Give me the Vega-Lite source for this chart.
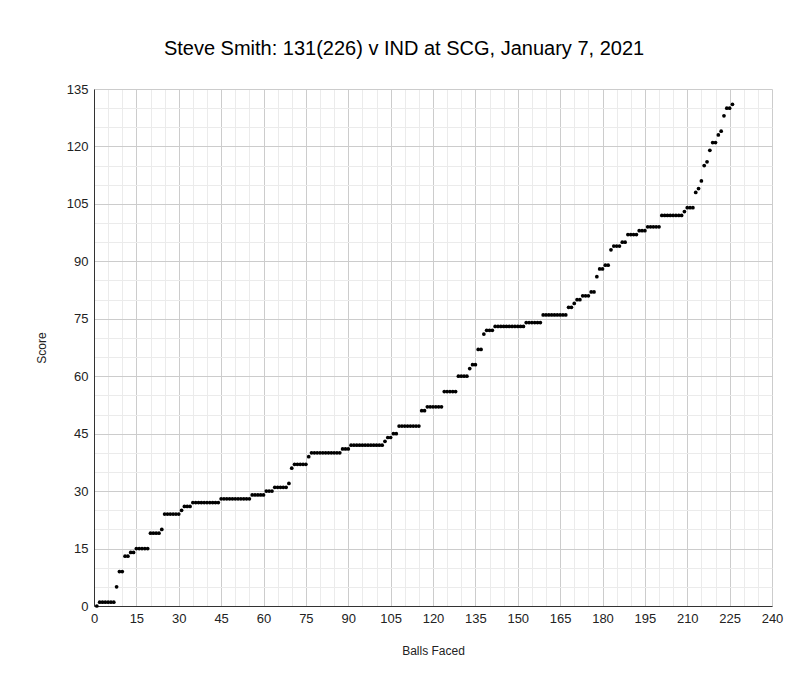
{
 "$schema": "https://vega.github.io/schema/vega-lite/v6.json",
 "width": 678,
 "height": 517,
 "autosize": {"type": "none"},
 "padding": {"left": 94, "top": 89, "right": 36, "bottom": 88},
 "background": "white",
 "title": {"text": "Steve Smith: 131(226) v IND at SCG, January 7, 2021", "font": "Liberation Sans", "fontSize": 20, "fontWeight": "normal", "color": "#000000", "anchor": "middle", "dx": -29, "baseline": "alphabetic", "offset": 8},
 "config": {"view": {"stroke": null}, "font": "Liberation Sans"},
 "data": {"values": [
  {"ball":1,"score":0},{"ball":2,"score":1},{"ball":3,"score":1},{"ball":4,"score":1},{"ball":5,"score":1},{"ball":6,"score":1},{"ball":7,"score":1},
  {"ball":8,"score":5},{"ball":9,"score":9},{"ball":10,"score":9},{"ball":11,"score":13},{"ball":12,"score":13},{"ball":13,"score":14},{"ball":14,"score":14},
  {"ball":15,"score":15},{"ball":16,"score":15},{"ball":17,"score":15},{"ball":18,"score":15},{"ball":19,"score":15},
  {"ball":20,"score":19},{"ball":21,"score":19},{"ball":22,"score":19},{"ball":23,"score":19},{"ball":24,"score":20},
  {"ball":25,"score":24},{"ball":26,"score":24},{"ball":27,"score":24},{"ball":28,"score":24},{"ball":29,"score":24},{"ball":30,"score":24},
  {"ball":31,"score":25},{"ball":32,"score":26},{"ball":33,"score":26},{"ball":34,"score":26},
  {"ball":35,"score":27},{"ball":36,"score":27},{"ball":37,"score":27},{"ball":38,"score":27},{"ball":39,"score":27},{"ball":40,"score":27},{"ball":41,"score":27},{"ball":42,"score":27},{"ball":43,"score":27},{"ball":44,"score":27},
  {"ball":45,"score":28},{"ball":46,"score":28},{"ball":47,"score":28},{"ball":48,"score":28},{"ball":49,"score":28},{"ball":50,"score":28},{"ball":51,"score":28},{"ball":52,"score":28},{"ball":53,"score":28},{"ball":54,"score":28},{"ball":55,"score":28},
  {"ball":56,"score":29},{"ball":57,"score":29},{"ball":58,"score":29},{"ball":59,"score":29},{"ball":60,"score":29},
  {"ball":61,"score":30},{"ball":62,"score":30},{"ball":63,"score":30},
  {"ball":64,"score":31},{"ball":65,"score":31},{"ball":66,"score":31},{"ball":67,"score":31},{"ball":68,"score":31},
  {"ball":69,"score":32},{"ball":70,"score":36},
  {"ball":71,"score":37},{"ball":72,"score":37},{"ball":73,"score":37},{"ball":74,"score":37},{"ball":75,"score":37},
  {"ball":76,"score":39},
  {"ball":77,"score":40},{"ball":78,"score":40},{"ball":79,"score":40},{"ball":80,"score":40},{"ball":81,"score":40},{"ball":82,"score":40},{"ball":83,"score":40},{"ball":84,"score":40},{"ball":85,"score":40},{"ball":86,"score":40},{"ball":87,"score":40},
  {"ball":88,"score":41},{"ball":89,"score":41},{"ball":90,"score":41},
  {"ball":91,"score":42},{"ball":92,"score":42},{"ball":93,"score":42},{"ball":94,"score":42},{"ball":95,"score":42},{"ball":96,"score":42},{"ball":97,"score":42},{"ball":98,"score":42},{"ball":99,"score":42},{"ball":100,"score":42},{"ball":101,"score":42},{"ball":102,"score":42},
  {"ball":103,"score":43},{"ball":104,"score":44},{"ball":105,"score":44},{"ball":106,"score":45},{"ball":107,"score":45},
  {"ball":108,"score":47},{"ball":109,"score":47},{"ball":110,"score":47},{"ball":111,"score":47},{"ball":112,"score":47},{"ball":113,"score":47},{"ball":114,"score":47},{"ball":115,"score":47},
  {"ball":116,"score":51},{"ball":117,"score":51},
  {"ball":118,"score":52},{"ball":119,"score":52},{"ball":120,"score":52},{"ball":121,"score":52},{"ball":122,"score":52},{"ball":123,"score":52},
  {"ball":124,"score":56},{"ball":125,"score":56},{"ball":126,"score":56},{"ball":127,"score":56},{"ball":128,"score":56},
  {"ball":129,"score":60},{"ball":130,"score":60},{"ball":131,"score":60},{"ball":132,"score":60},
  {"ball":133,"score":62},{"ball":134,"score":63},{"ball":135,"score":63},{"ball":136,"score":67},{"ball":137,"score":67},
  {"ball":138,"score":71},{"ball":139,"score":72},{"ball":140,"score":72},{"ball":141,"score":72},
  {"ball":142,"score":73},{"ball":143,"score":73},{"ball":144,"score":73},{"ball":145,"score":73},{"ball":146,"score":73},{"ball":147,"score":73},{"ball":148,"score":73},{"ball":149,"score":73},{"ball":150,"score":73},{"ball":151,"score":73},{"ball":152,"score":73},
  {"ball":153,"score":74},{"ball":154,"score":74},{"ball":155,"score":74},{"ball":156,"score":74},{"ball":157,"score":74},{"ball":158,"score":74},
  {"ball":159,"score":76},{"ball":160,"score":76},{"ball":161,"score":76},{"ball":162,"score":76},{"ball":163,"score":76},{"ball":164,"score":76},{"ball":165,"score":76},{"ball":166,"score":76},{"ball":167,"score":76},
  {"ball":168,"score":78},{"ball":169,"score":78},{"ball":170,"score":79},{"ball":171,"score":80},{"ball":172,"score":80},
  {"ball":173,"score":81},{"ball":174,"score":81},{"ball":175,"score":81},{"ball":176,"score":82},{"ball":177,"score":82},
  {"ball":178,"score":86},{"ball":179,"score":88},{"ball":180,"score":88},{"ball":181,"score":89},{"ball":182,"score":89},
  {"ball":183,"score":93},{"ball":184,"score":94},{"ball":185,"score":94},{"ball":186,"score":94},{"ball":187,"score":95},{"ball":188,"score":95},
  {"ball":189,"score":97},{"ball":190,"score":97},{"ball":191,"score":97},{"ball":192,"score":97},
  {"ball":193,"score":98},{"ball":194,"score":98},{"ball":195,"score":98},
  {"ball":196,"score":99},{"ball":197,"score":99},{"ball":198,"score":99},{"ball":199,"score":99},{"ball":200,"score":99},
  {"ball":201,"score":102},{"ball":202,"score":102},{"ball":203,"score":102},{"ball":204,"score":102},{"ball":205,"score":102},{"ball":206,"score":102},{"ball":207,"score":102},{"ball":208,"score":102},
  {"ball":209,"score":103},{"ball":210,"score":104},{"ball":211,"score":104},{"ball":212,"score":104},
  {"ball":213,"score":108},{"ball":214,"score":109},{"ball":215,"score":111},{"ball":216,"score":115},{"ball":217,"score":116},{"ball":218,"score":119},
  {"ball":219,"score":121},{"ball":220,"score":121},{"ball":221,"score":123},{"ball":222,"score":124},{"ball":223,"score":128},
  {"ball":224,"score":130},{"ball":225,"score":130},{"ball":226,"score":131}
 ]},
 "layer": [
  {
   "mark": {"type": "circle", "opacity": 0},
   "encoding": {
    "x": {"field": "ball", "type": "quantitative", "scale": {"domain": [0, 240], "nice": false},
          "axis": {"orient": "top", "values": [5,10,20,25,35,40,50,55,65,70,80,85,95,100,110,115,125,130,140,145,155,160,170,175,185,190,200,205,215,220,230,235], "grid": true, "gridColor": "#ebebeb", "gridWidth": 1, "labels": false, "ticks": false, "domain": false, "title": null}},
    "y": {"field": "score", "type": "quantitative", "scale": {"domain": [0, 135], "nice": false},
          "axis": {"orient": "right", "values": [5,10,20,25,35,40,50,55,65,70,80,85,95,100,110,115,125,130], "grid": true, "gridColor": "#ebebeb", "gridWidth": 1, "labels": false, "ticks": false, "domain": false, "title": null}}
   }
  },
  {
   "mark": {"type": "circle", "size": 14, "color": "#000000", "opacity": 1},
   "encoding": {
    "x": {"field": "ball", "type": "quantitative",
          "axis": {"values": [0,15,30,45,60,75,90,105,120,135,150,165,180,195,210,225,240], "grid": true, "gridColor": "#cccccc", "ticks": false, "domain": true, "domainColor": "#333333", "labelFlush": false, "labelFont": "Liberation Sans", "labelFontSize": 13, "labelColor": "#222222", "labelPadding": 6, "title": "Balls Faced", "titleFont": "Liberation Sans", "titleFontSize": 12, "titleFontWeight": "normal", "titleColor": "#222222", "titlePadding": 20}},
    "y": {"field": "score", "type": "quantitative",
          "axis": {"values": [0,15,30,45,60,75,90,105,120,135], "grid": true, "gridColor": "#cccccc", "ticks": false, "domain": true, "domainColor": "#333333", "labelFlush": false, "labelFont": "Liberation Sans", "labelFontSize": 13, "labelColor": "#222222", "labelPadding": 6, "title": "Score", "titleFont": "Liberation Sans", "titleFontSize": 12, "titleFontWeight": "normal", "titleColor": "#222222", "titlePadding": 18}}
   }
  }
 ],
 "resolve": {"axis": {"x": "independent", "y": "independent"}}
}
